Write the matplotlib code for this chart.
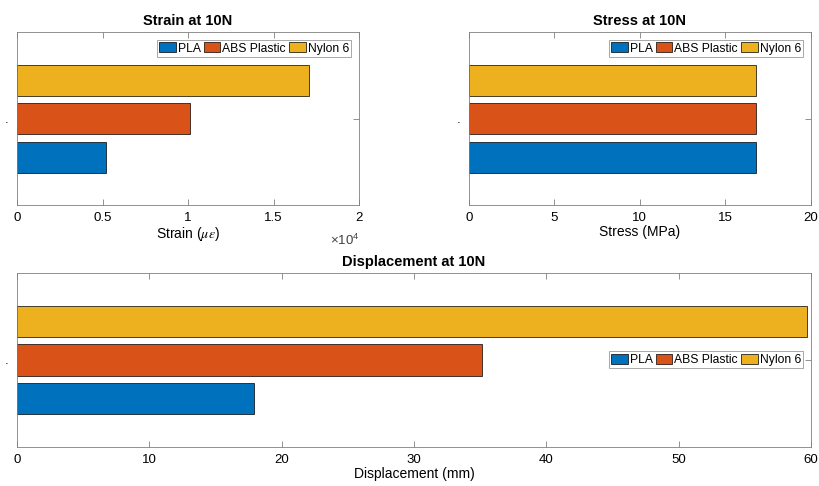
import numpy as np
import matplotlib
matplotlib.use('Agg')
import matplotlib.pyplot as plt
from matplotlib.ticker import FuncFormatter

plt.rcParams['font.family'] = ['Liberation Sans', 'DejaVu Sans']
plt.rcParams['mathtext.fontset'] = 'stix'

# material results at 10N load
materials = ['PLA', 'ABS Plastic', 'Nylon 6']
strain = [5220, 10100, 17060]          # micro-strain
stress = [16.76, 16.79, 16.79]         # MPa
displacement = [17.93, 35.14, 59.67]   # mm

colors = ['#0072BD', '#D95319', '#EDB120']
offsets = [-0.2225, 0.0, 0.2225]
bar_h = 0.18
axis_grey = '#808080'


def draw_bars(ax, values, xmax, xticks, title, xlabel, legend_loc):
    for val, off, col, name in zip(values, offsets, colors, materials):
        ax.barh(1 + off, val, height=bar_h, color=col, edgecolor='black',
                linewidth=0.5, label=name, zorder=2)
    ax.set_xlim(0, xmax)
    ax.set_ylim(0.5, 1.5)
    ax.set_xticks(xticks)
    ax.set_yticks([1])
    ax.set_yticklabels(['.'], fontsize=6)
    ax.tick_params(direction='in', length=4, width=0.6, color=axis_grey,
                   top=True, right=True, labelsize=9.5, pad=5, zorder=3)
    ax.tick_params(axis='y', pad=6)
    for sp in ax.spines.values():
        sp.set_color(axis_grey)
        sp.set_linewidth(0.6)
    ax.set_title(title, fontsize=10.5, fontweight='bold', pad=5)
    ax.set_xlabel(xlabel, fontsize=10, labelpad=1)
    leg = ax.legend(loc=legend_loc, ncol=3, fontsize=8.7, frameon=True,
                    fancybox=False, handlelength=1.35, handleheight=0.9,
                    handletextpad=0.15, columnspacing=0.3, borderpad=0.2,
                    borderaxespad=0.65)
    leg.get_frame().set_edgecolor(axis_grey)
    leg.get_frame().set_linewidth(0.6)
    return ax


fig = plt.figure(figsize=(8.19, 4.86), dpi=100)

ax1 = fig.add_axes([0.0208, 0.578, 0.4176, 0.356])
draw_bars(ax1, strain, 20000, [0, 5000, 10000, 15000, 20000],
          'Strain at 10N', r'Strain ($\mu\epsilon$)', 'upper right')
ax1.xaxis.set_major_formatter(FuncFormatter(lambda v, p: f'{v / 1e4:g}'))
ax1.text(1.0, -0.205, r'$\mathregular{\times10^4}$', transform=ax1.transAxes,
         ha='right', va='center', fontsize=9.5, color='#404040')

ax2 = fig.add_axes([0.5723, 0.578, 0.418, 0.356])
draw_bars(ax2, stress, 20, [0, 5, 10, 15, 20],
          'Stress at 10N', 'Stress (MPa)', 'upper right')

ax3 = fig.add_axes([0.0208, 0.0809, 0.9695, 0.357])
draw_bars(ax3, displacement, 60, [0, 10, 20, 30, 40, 50, 60],
          'Displacement at 10N', 'Displacement (mm)', 'center right')

fig.savefig('out.png', dpi=100)
